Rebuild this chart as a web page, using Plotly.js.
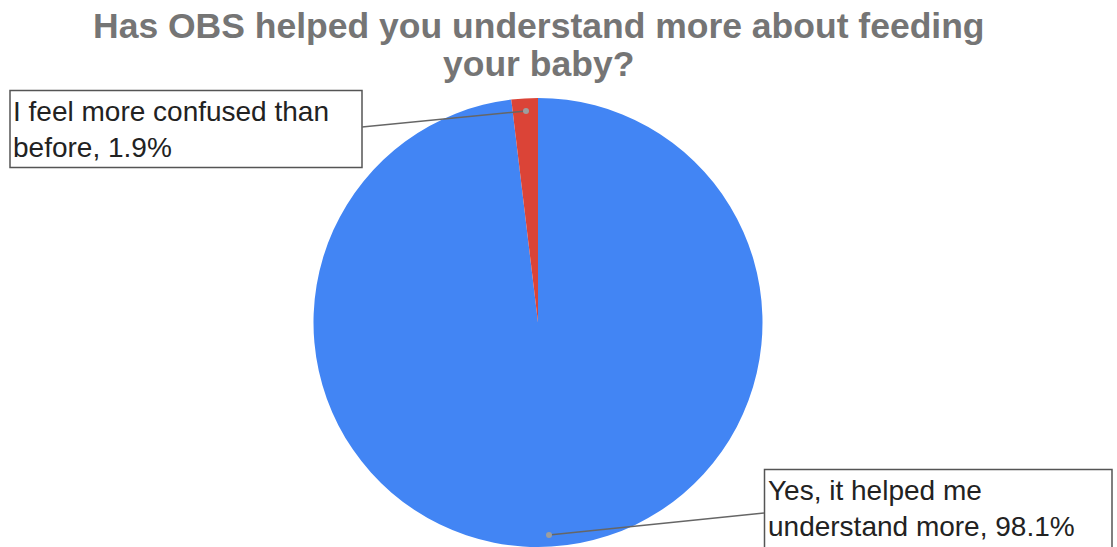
<!DOCTYPE html>
<html><head><meta charset="utf-8">
<script src="https://cdn.plot.ly/plotly-3.0.1.min.js"></script>
<style>html,body{margin:0;padding:0;background:#fff}</style>
</head><body>
<div id="chart" style="width:1117px;height:547px"></div>
<script>
const labels = ["Yes, it helped me understand more", "I feel more confused than before"];
const values = [98.1, 1.9];
const colors = ["#4285f4", "#db4437"];
const labelTexts = ["Yes, it helped me<br>understand more, 98.1%", "I feel more confused than<br>before, 1.9%"];
const titleLines = ["Has OBS helped you understand more about feeding", "your baby?"];

const W = 1117, H = 547;
const px = x => x / W;
const py = y => 1 - y / H;
const FONT = "'Liberation Sans', Arial, sans-serif";

const data = [{
  type: "pie",
  labels: labels,
  values: values,
  marker: {colors: colors, line: {width: 0}},
  sort: false,
  direction: "clockwise",
  rotation: 0,
  textinfo: "none",
  hoverinfo: "label+percent",
  showlegend: false,
  domain: {x: [px(313), px(763)], y: [py(548), py(98)]}
}];

const titleFont = {family: FONT, size: 35.5, color: "#757575", weight: "bold"};
const labelFont = {family: FONT, size: 28, color: "#222"};

const layout = {
  width: W, height: H,
  margin: {l: 0, r: 0, t: 0, b: 0},
  paper_bgcolor: "#fff",
  showlegend: false,
  annotations: [
    {text: titleLines[0], xref: "paper", yref: "paper", x: px(538.5), y: py(5), xanchor: "center", yanchor: "top",
     showarrow: false, font: titleFont, borderpad: 0},
    {text: titleLines[1], xref: "paper", yref: "paper", x: px(538), y: py(43.3), xanchor: "center", yanchor: "top",
     showarrow: false, font: titleFont, borderpad: 0},
    {text: labelTexts[1], xref: "paper", yref: "paper", x: px(12), y: py(129), xanchor: "left", yanchor: "middle",
     showarrow: false, align: "left", font: labelFont, borderpad: 0},
    {text: labelTexts[0], xref: "paper", yref: "paper", x: px(767), y: py(508), xanchor: "left", yanchor: "middle",
     showarrow: false, align: "left", font: labelFont, borderpad: 0}
  ],
  shapes: [
    {type: "rect", xref: "paper", yref: "paper", x0: px(10), y0: py(90.5), x1: px(362), y1: py(167.5), fillcolor: "rgba(0,0,0,0)", line: {color: "#555", width: 1.5}},
    {type: "rect", xref: "paper", yref: "paper", x0: px(764.5), y0: py(469.5), x1: px(1112), y1: py(548), fillcolor: "rgba(0,0,0,0)", line: {color: "#555", width: 1.5}},
    {type: "line", xref: "paper", yref: "paper", x0: px(526), y0: py(111), x1: px(362), y1: py(127), line: {color: "#666", width: 1.5}},
    {type: "circle", xref: "paper", yref: "paper", x0: px(523), y0: py(108), x1: px(529), y1: py(114), fillcolor: "#9e9e9e", line: {width: 0}},
    {type: "line", xref: "paper", yref: "paper", x0: px(549), y0: py(535), x1: px(764), y1: py(513), line: {color: "#666", width: 1.5}},
    {type: "circle", xref: "paper", yref: "paper", x0: px(546), y0: py(532), x1: px(552), y1: py(538), fillcolor: "#9e9e9e", line: {width: 0}}
  ]
};

Plotly.newPlot("chart", data, layout, {displayModeBar: false, staticPlot: true});
</script>
</body></html>
